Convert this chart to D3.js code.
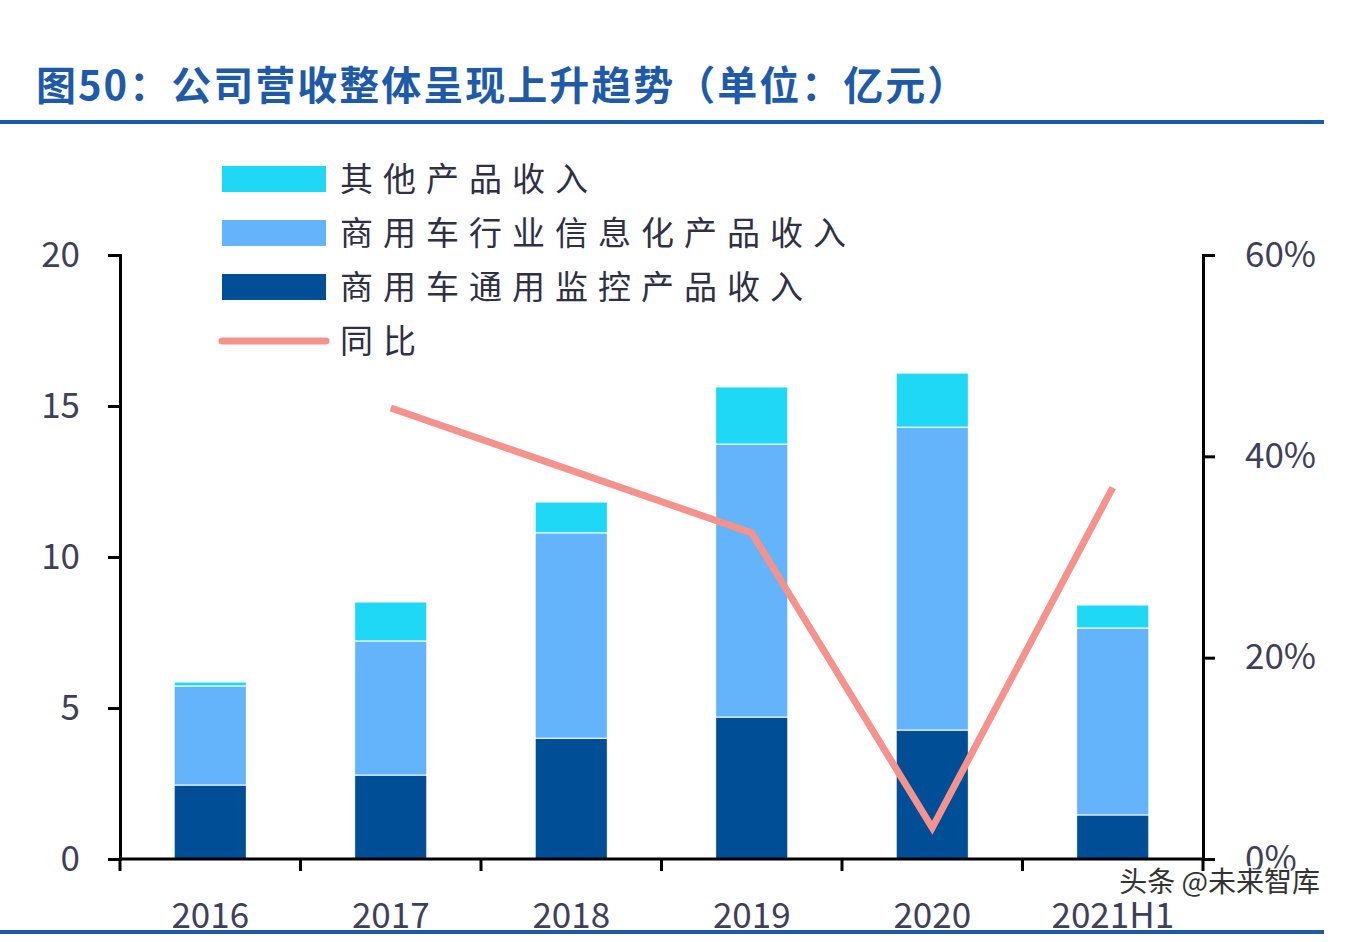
<!DOCTYPE html>
<html><head><meta charset="utf-8">
<script src="https://cdn.jsdelivr.net/npm/d3@7.9.0/dist/d3.min.js"></script>
<style>body{margin:0;background:#fff;overflow:hidden}</style>
</head><body>
<svg id="chart" width="1346" height="942"></svg>
<script>
// data
const years = ['2016', '2017', '2018', '2019', '2020', '2021H1'];
const monitor = [2.45, 2.78, 4.0, 4.7, 4.27, 1.46];     // 商用车通用监控产品收入
const info = [3.28, 4.44, 6.8, 9.04, 10.03, 6.19];      // 商用车行业信息化产品收入
const other = [0.13, 1.29, 1.02, 1.89, 1.79, 0.76];     // 其他产品收入
const yoy = [null, 0.448, 0.386, 0.324, 0.031, 0.369];  // 同比
const leftTicks = [0, 5, 10, 15, 20];
const rightTicks = [0, 0.2, 0.4, 0.6];

const colors = { monitor: '#004f96', info: '#63b4fa', other: '#1fd8f5', line: '#f4928e' };
const font = '"Noto Sans CJK SC", "Noto Sans", sans-serif';

const svg = d3.select('#chart');

// title and rules
svg.append('text').attr('x', 36).attr('y', 100)
  .attr('font-family', '"Noto Sans CJK SC", serif').attr('font-weight', 'bold')
  .attr('font-size', 40).attr('letter-spacing', 2).attr('fill', '#1f5aa8')
  .text('图50：公司营收整体呈现上升趋势（单位：亿元）');
svg.append('rect').attr('x', 0).attr('y', 120).attr('width', 1324).attr('height', 4).attr('fill', '#1f5aa8');
svg.append('rect').attr('x', 0).attr('y', 930).attr('width', 1324).attr('height', 4).attr('fill', '#1f5aa8');

const x = d3.scaleBand().domain(years).range([120, 1203]).paddingInner(0.6).paddingOuter(0.3);
const yL = d3.scaleLinear().domain([0, 20]).range([859, 255]);
const yR = d3.scaleLinear().domain([0, 0.6]).range([859, 255]);

// stacked bars
const rows = years.map((y, i) => ({ year: y, monitor: monitor[i], info: info[i], other: other[i] }));
const stack = d3.stack().keys(['monitor', 'info', 'other'])(rows);
svg.append('g').selectAll('g').data(stack).join('g')
  .attr('fill', d => colors[d.key])
  .selectAll('rect').data(d => d).join('rect')
  .attr('x', d => x(d.data.year))
  .attr('width', x.bandwidth())
  .attr('y', d => yL(d[1]))
  .attr('height', d => yL(d[0]) - yL(d[1]))
  .attr('stroke', '#fff').attr('stroke-width', 1);

// line
const line = d3.line()
  .defined(d => d.v != null)
  .x(d => x(d.year) + x.bandwidth() / 2)
  .y(d => yR(d.v));
svg.append('path').datum(years.map((y, i) => ({ year: y, v: yoy[i] })))
  .attr('d', line).attr('fill', 'none')
  .attr('stroke', colors.line).attr('stroke-width', 7);

// axes
const axisStyle = g => {
  g.selectAll('path, line').attr('stroke', '#000').attr('stroke-width', 3);
  g.selectAll('text').attr('font-family', font).attr('font-size', 35).attr('fill', '#3f3f5a');
};
svg.append('g').attr('transform', 'translate(120,0)')
  .call(d3.axisLeft(yL).tickValues(leftTicks).tickSizeOuter(0).tickSize(12).tickPadding(28))
  .call(axisStyle);
svg.append('g').attr('transform', 'translate(1203,0)')
  .call(d3.axisRight(yR).tickValues(rightTicks).tickFormat(d3.format('.0%')).tickSizeOuter(0).tickSize(12).tickPadding(30))
  .call(axisStyle);
const xAxis = svg.append('g').attr('transform', 'translate(0,859)')
  .call(d3.axisBottom(x).tickSize(0).tickPadding(44).tickSizeOuter(0))
  .call(axisStyle);
xAxis.select('.domain').attr('d', 'M120,0H1203');
const step = x.step();
xAxis.selectAll('.sep').data(d3.range(years.length + 1)).join('line')
  .attr('x1', i => 120 + i * step).attr('x2', i => 120 + i * step)
  .attr('y1', 0).attr('y2', 12).attr('stroke', '#000').attr('stroke-width', 3);

// legend
const legend = [
  { label: '其他产品收入', color: colors.other, type: 'rect' },
  { label: '商用车行业信息化产品收入', color: colors.info, type: 'rect' },
  { label: '商用车通用监控产品收入', color: colors.monitor, type: 'rect' },
  { label: '同比', color: colors.line, type: 'line' }
];
const lg = svg.append('g').selectAll('g').data(legend).join('g')
  .attr('transform', (d, i) => `translate(222,${179 + i * 54})`);
lg.filter(d => d.type === 'rect').append('rect')
  .attr('x', 0).attr('y', -13).attr('width', 104).attr('height', 26).attr('fill', d => d.color);
lg.filter(d => d.type === 'line').append('line')
  .attr('x1', 0).attr('x2', 104).attr('y1', 0).attr('y2', 0)
  .attr('stroke', d => d.color).attr('stroke-width', 7).attr('stroke-linecap', 'round');
lg.append('text').attr('x', 118).attr('y', 12)
  .attr('font-family', font).attr('font-size', 33).attr('letter-spacing', 10).attr('fill', '#2f2f45')
  .text(d => d.label);

// watermark
svg.append('text').attr('x', 1320).attr('y', 892).attr('text-anchor', 'end')
  .attr('font-family', font).attr('font-size', 28).attr('fill', '#333')
  .attr('stroke', '#fff').attr('stroke-width', 3).attr('paint-order', 'stroke')
  .text('头条 @未来智库');
</script>
</body></html>
